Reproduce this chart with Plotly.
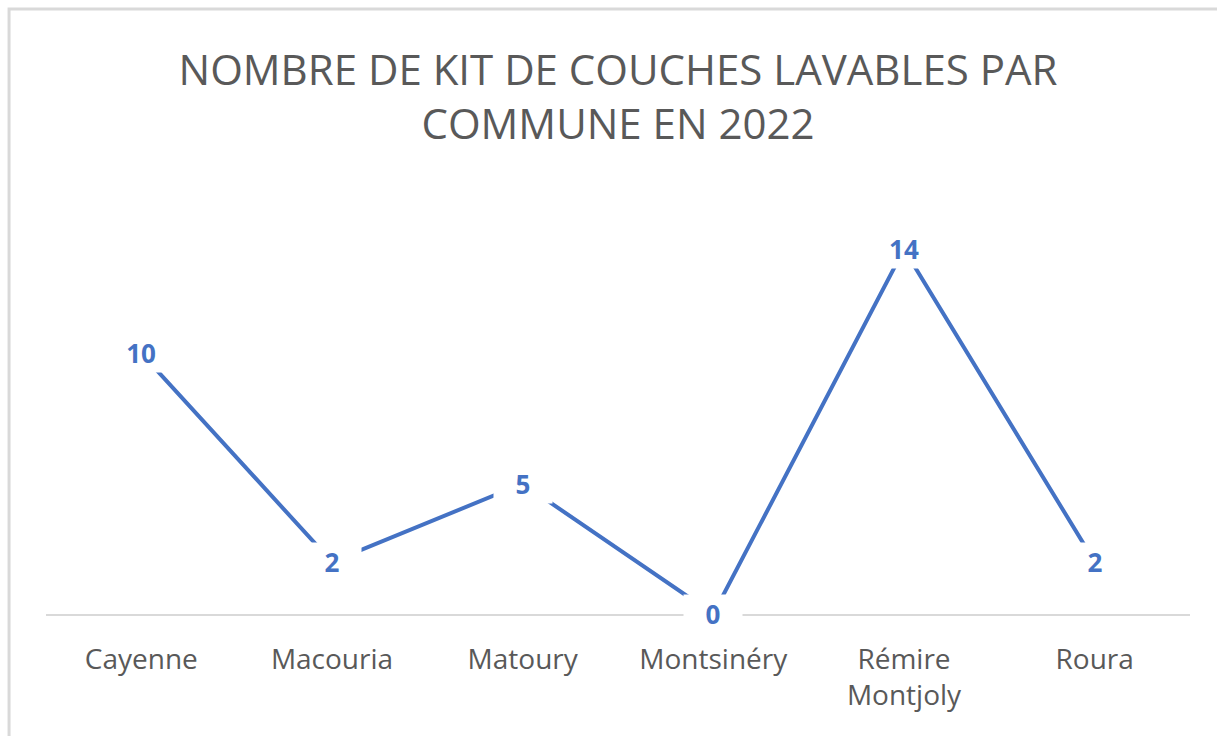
import plotly.graph_objects as go

communes = ["Cayenne", "Macouria", "Matoury", "Montsinéry", "Rémire<br>Montjoly", "Roura"]
kits = [10, 2, 5, 0, 14, 2]
title_text = "NOMBRE DE KIT DE COUCHES LAVABLES PAR<br>COMMUNE EN 2022"

BLUE = "#4472C4"
GRAY = "#595959"
FONT = "Open Sans"

fig = go.Figure()
fig.add_trace(go.Scatter(
    x=communes, y=kits, mode="lines",
    line=dict(color=BLUE, width=4),
    cliponaxis=False, hoverinfo="skip", showlegend=False,
))

for c, v in zip(communes, kits):
    fig.add_annotation(
        x=c, y=v, xref="x", yref="y", text=f"<b>{v}</b>", showarrow=False,
        font=dict(family=FONT, size=26, color=BLUE),
        bgcolor="white", width=56, height=36, xanchor="center", yanchor="middle",
    )

# chart-area border (light gray, right/bottom run off-canvas)
fig.add_shape(type="rect", xref="paper", yref="paper",
              x0=-0.0323, x1=1.03, y0=-0.31, y1=1.4508,
              line=dict(color="#d9d9d9", width=3), fillcolor="rgba(0,0,0,0)", layer="below")

fig.update_layout(
    width=1217, height=736,
    margin=dict(l=46, r=27, t=197, b=122),
    paper_bgcolor="white", plot_bgcolor="white",
    title=dict(text=title_text, x=0.5, xref="paper", xanchor="center",
               y=0.885, yref="container", yanchor="top",
               font=dict(family=FONT, size=42, color=GRAY)),
    xaxis=dict(showline=True, linecolor="#d9d9d9", linewidth=2, showgrid=False,
               range=[-0.5, 5.5], ticks="", ticklabelstandoff=19,
               tickfont=dict(family=FONT, size=28, color=GRAY),
               zeroline=False),
    yaxis=dict(range=[0, 16], visible=False, showgrid=False, zeroline=False),
    font=dict(family=FONT),
)

fig.write_html("out.html", config={"displayModeBar": False},
               post_script="document.body.style.margin='0';document.body.style.padding='0';")
